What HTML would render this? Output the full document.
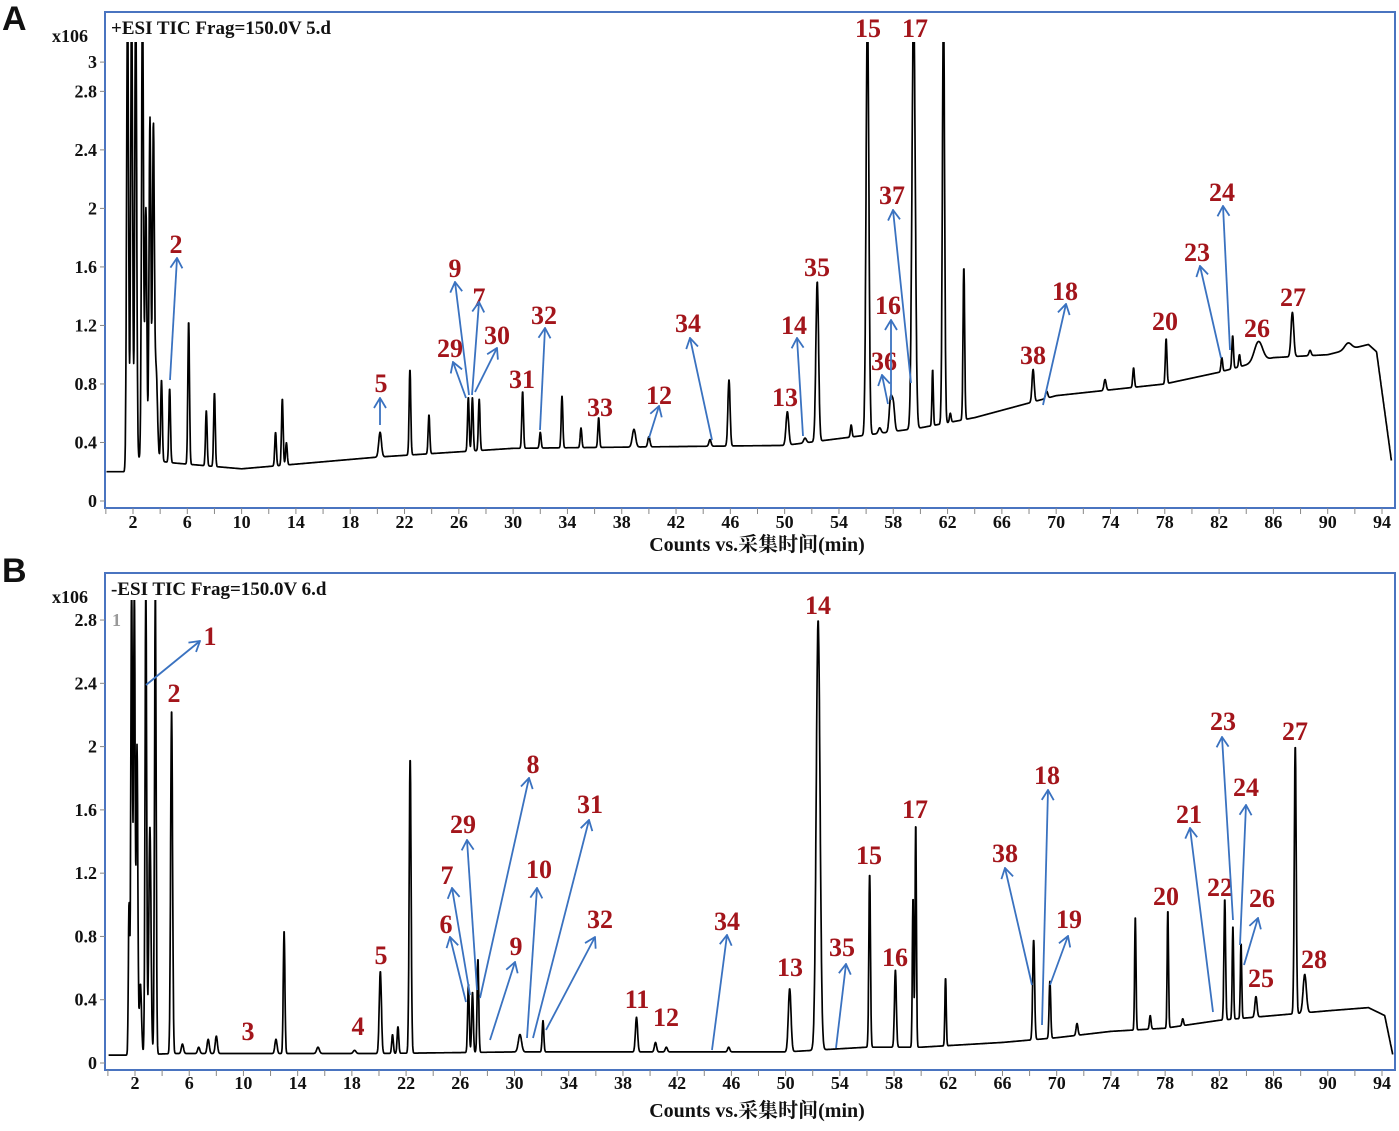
<!DOCTYPE html>
<html><head><meta charset="utf-8"><style>
html,body{margin:0;padding:0;background:#fff;}
svg{display:block;}
.lbl{font-family:"Liberation Serif",serif;font-weight:bold;font-size:26px;fill:#a3151b;text-anchor:middle;}
.tick{font-family:"Liberation Serif",serif;font-weight:bold;font-size:18px;fill:#111;}
.ttl{font-family:"Liberation Serif","Noto Serif CJK SC",serif;font-weight:bold;font-size:20px;fill:#111;text-anchor:middle;}
.hdr{font-family:"Liberation Serif",serif;font-weight:bold;font-size:19px;fill:#111;}
.pl{font-family:"Liberation Sans",sans-serif;font-weight:bold;font-size:34px;fill:#111;}
</style></head><body>
<svg id="chart" width="1399" height="1131" viewBox="0 0 1399 1131" xmlns="http://www.w3.org/2000/svg">
<defs>
<clipPath id="clipA"><rect x="106" y="42" width="1288" height="465"/></clipPath>
<clipPath id="clipB"><rect x="106" y="600" width="1288" height="469"/></clipPath>
<marker id="ah" viewBox="0 0 12 14" refX="11" refY="7" markerWidth="12" markerHeight="14" markerUnits="userSpaceOnUse" orient="auto">
<path d="M1,1 L11,7 L1,13" fill="none" stroke="#3a72c0" stroke-width="1.8"/></marker>
</defs>
<g id="layer"></g>
</svg>
<script>
// ---------- Panel A data (+ESI) ----------
const baseA_t = [0,1.4,1.6,5,10,20,30,40,50,56,60,64,70,78,82,86,90,93,93.6,94.7];
const baseA_v = [0.20,0.20,0.30,0.26,0.22,0.30,0.36,0.37,0.38,0.45,0.50,0.57,0.72,0.80,0.88,0.98,1.00,1.07,1.02,0.27];
const peakA_t = [1.6,1.9,2.2,2.7,2.95,3.25,3.5,3.7,4.1,4.7,6.1,7.4,8.0,12.5,13.0,13.3,20.2,22.4,23.8,26.7,27.0,27.5,30.7,32.0,33.6,35.0,36.3,38.9,40.0,44.5,45.9,50.2,51.5,52.4,54.9,56.1,57.0,57.8,58.0,59.5,60.9,61.7,62.2,63.2,68.3,69.3,73.6,75.7,78.1,82.2,83.0,83.5,84.9,87.4,88.7,91.5];
const peakA_h = [3.5,3.5,3.5,3.5,2.0,2.62,2.5,0.9,0.83,0.77,1.23,0.62,0.74,0.47,0.70,0.40,0.47,0.90,0.59,0.71,0.71,0.70,0.75,0.47,0.72,0.50,0.57,0.49,0.44,0.42,0.83,0.61,0.43,1.50,0.52,3.4,0.50,0.69,0.66,3.4,0.90,3.4,0.60,1.60,0.90,0.75,0.83,0.91,1.11,0.98,1.13,1.00,1.09,1.29,1.03,1.08];
const peakA_w = [.07,.07,.07,.07,.07,.07,.07,.1,.06,.06,.06,.06,.06,.06,.06,.06,.1,.06,.06,.06,.06,.06,.06,.06,.06,.06,.06,.12,.08,.08,.08,.1,.1,.1,.06,.1,.1,.1,.1,.12,.05,.08,.06,.06,.08,.08,.08,.06,.06,.06,.06,.06,.3,.1,.08,.25];
// ---------- Panel B data (-ESI) ----------
const baseB_t = [0,1.4,5,20,30,40,50,56,60,66,70,74,78,82,86,90,93,94.2,94.8];
const baseB_v = [0.05,0.05,0.06,0.06,0.07,0.07,0.07,0.10,0.10,0.13,0.16,0.20,0.22,0.27,0.30,0.33,0.35,0.30,0.05];
const peakB_t = [1.56,1.75,1.95,2.15,2.4,2.8,3.1,3.5,4.7,5.5,6.7,7.4,8.0,12.4,13.0,15.5,18.2,20.1,21.0,21.4,22.3,26.6,26.9,27.3,30.4,32.1,34.8,39.0,40.4,41.2,45.8,50.3,52.4,56.2,58.1,59.4,59.6,61.8,68.3,69.5,71.5,75.8,76.9,78.2,79.3,82.4,83.0,83.6,84.7,87.6,88.3];
const peakB_h = [1.0,3.0,3.0,2.0,0.5,3.0,1.5,3.0,2.24,0.12,0.10,0.15,0.17,0.15,0.84,0.10,0.08,0.58,0.18,0.23,1.93,0.50,0.45,0.66,0.18,0.27,0.07,0.29,0.13,0.10,0.10,0.47,2.8,1.20,0.59,1.05,1.52,0.54,0.78,0.52,0.25,0.93,0.30,0.97,0.28,1.04,0.87,0.76,0.42,2.01,0.56];
const peakB_w = [.05,.06,.06,.06,.08,.06,.08,.06,.07,.08,.08,.08,.08,.08,.06,.1,.1,.08,.06,.06,.07,.06,.06,.06,.12,.06,.1,.08,.08,.08,.08,.1,.14,.06,.07,.05,.05,.05,.07,.06,.07,.05,.06,.05,.06,.06,.05,.05,.08,.07,.12];
const xTicks = [2,6,10,14,18,22,26,30,34,38,42,46,50,54,58,62,66,70,74,78,82,86,90,94];
const yTicksA = [0,0.4,0.8,1.2,1.6,2,2.4,2.8,3];
const yTicksB = [0,0.4,0.8,1.2,1.6,2,2.4,2.8];

const NS="http://www.w3.org/2000/svg";
const layer=document.getElementById('layer');
function mk(tag,attrs,parent){const e=document.createElementNS(NS,tag);for(const k in attrs)e.setAttribute(k,attrs[k]);(parent||layer).appendChild(e);return e;}
function interp(ts,vs,t){if(t<=ts[0])return vs[0];for(let i=1;i<ts.length;i++){if(t<=ts[i]){const f=(t-ts[i-1])/(ts[i]-ts[i-1]);return vs[i-1]+f*(vs[i]-vs[i-1]);}}return vs[vs.length-1];}

const panels=[
 {id:'a',top:12,bot:508,y0:501,yk:146.3,x2:133,x94:1382,bt:baseA_t,bv:baseA_v,pt:peakA_t,ph:peakA_h,pw:peakA_w,yt:yTicksA,clip:'clipA',hdr:'+ESI TIC Frag=150.0V 5.d',lab:'A',ly:30,tl:528,title:551,start:0.05,end:94.7},
 {id:'b',top:573,bot:1070,y0:1063,yk:158.2,x2:135,x94:1382,bt:baseB_t,bv:baseB_v,pt:peakB_t,ph:peakB_h,pw:peakB_w,yt:yTicksB,clip:'clipB',hdr:'-ESI TIC Frag=150.0V 6.d',lab:'B',ly:582,tl:1089,title:1117,start:0.05,end:94.8}
];
panels.forEach(P=>{
 const xs=t=>P.x2+(t-2)*(P.x94-P.x2)/92;
 const ys=v=>P.y0-v*P.yk;
 const g=mk('g',{});
 
 
 const pl=mk('text',{x:2,y:P.ly,class:'pl'},g);pl.textContent=P.lab;
 
 
 const box=mk('rect',{x:105,y:P.top,width:1290,height:P.bot-P.top,fill:'none',stroke:'#4a74c0','stroke-width':2},g);
 
 
 const h=mk('text',{x:111,y:P.top+22,class:'hdr'},g);h.textContent=P.hdr;
 
 
 const u=mk('text',{x:52,y:P.top+30,class:'tick'},g);u.textContent='x106';
 
 
 P.yt.forEach(v=>{
  const t=mk('text',{x:97,y:ys(v)+6,class:'tick','text-anchor':'end'},g);t.textContent=String(v);
  
  
  const l=mk('line',{x1:105,x2:100,y1:ys(v),y2:ys(v),stroke:'#888','stroke-width':1},g);
  
  
 });
 for(let m=0;m<=94;m+=2){
  const l=mk('line',{x1:xs(m),x2:xs(m),y1:P.bot,y2:P.bot+6,stroke:'#888','stroke-width':1},g);
  
  
 }
 xTicks.forEach(m=>{
  const t=mk('text',{x:xs(m),y:P.tl,class:'tick','text-anchor':'middle'},g);t.textContent=String(m);
  
  
 });
 const tt=mk('text',{x:757,y:P.title,class:'ttl'},g);tt.textContent='Counts vs.采集时间(min)';
 
 
 let d='';
 for(let t=P.start;t<=P.end+1e-9;t+=0.02){
  const b=interp(P.bt,P.bv,t);let v=b;
  for(let i=0;i<P.pt.length;i++){const dt=t-P.pt[i];const w=P.pw[i];if(Math.abs(dt)<6*w){const a=Math.max(0,P.ph[i]-interp(P.bt,P.bv,P.pt[i]));v+=a*Math.exp(-dt*dt/(2*w*w));}}
  d+=(d?'L':'M')+xs(t).toFixed(1)+','+ys(v).toFixed(1);
 }
 const tr=mk('path',{d:d,fill:'none',stroke:'#000','stroke-width':1.7,'stroke-linejoin':'round','clip-path':'url(#'+P.clip+')'},g);
 
 
});
const g1=mk('text',{x:112,y:626,'font-family':'Liberation Serif, serif','font-weight':'bold','font-size':'18',fill:'#999'});g1.textContent='1';



// annotations: peak labels and arrows
const labels=[[2,176,253],[5,381,392],[29,450,357],[9,455,277],[7,479,306],[30,497,344],[31,522,388],[32,544,324],[33,600,416],[12,659,404],[34,688,332],[13,785,406],[14,794,334],[35,817,276],[15,868,37],[17,915,37],[16,888,314],[36,884,370],[37,892,204],[38,1033,364],[18,1065,300],[20,1165,330],[23,1197,261],[24,1222,201],[26,1257,337],[27,1293,306],
[1,210,645],[2,174,702],[3,248,1040],[4,358,1035],[5,381,964],[6,446,933],[7,447,884],[29,463,833],[8,533,773],[9,516,955],[10,539,878],[31,590,813],[32,600,928],[11,637,1008],[12,666,1026],[34,727,930],[13,790,976],[14,818,614],[35,842,956],[15,869,864],[16,895,966],[17,915,818],[38,1005,862],[18,1047,784],[19,1069,928],[20,1166,905],[21,1189,823],[22,1220,896],[23,1223,730],[24,1246,796],[26,1262,907],[25,1261,987],[27,1295,740],[28,1314,968]];
labels.forEach(L=>{
 const t=mk('text',{x:L[1],y:L[2],class:'lbl'});t.textContent=String(L[0]);
 
 
});
const arrows=[[170,380,177,258],[380,425,380,398],[466,398,453,362],[469,395,455,282],[472,395,479,302],[475,392,497,348],[540,430,545,328],[649,438,659,406],[712,440,690,338],[803,436,797,338],[888,404,882,375],[891,400,891,320],[911,383,893,210],[1043,405,1066,304],[1221,358,1200,266],[1230,350,1223,206],
[146,685,200,641],[466,1002,450,937],[470,995,452,888],[477,990,467,840],[480,998,529,778],[490,1040,515,962],[527,1038,537,888],[533,1038,589,820],[546,1030,595,937],[712,1050,727,935],[836,1048,846,964],[1032,985,1005,868],[1042,1025,1048,790],[1050,985,1068,936],[1213,1012,1190,828],[1233,920,1222,737],[1240,945,1246,805],[1244,965,1258,918]];
arrows.forEach(a=>{
 const l=mk('line',{x1:a[0],y1:a[1],x2:a[2],y2:a[3],stroke:'#3a72c0','stroke-width':1.8,'marker-end':'url(#ah)'});
 
 
});
</script>
</body></html>
